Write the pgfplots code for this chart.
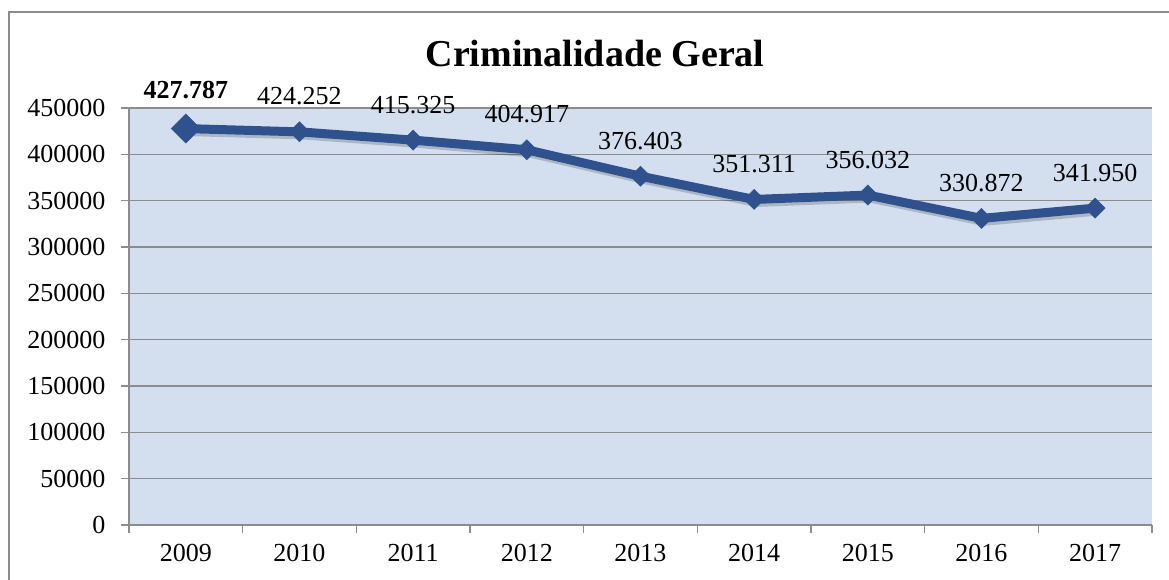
\documentclass[border=0pt]{standalone}
\usepackage{fontspec}
\setmainfont{Liberation Serif}
\usepackage{pgfplots}
\pgfplotsset{compat=1.18}
\definecolor{plotbg}{HTML}{D3DFEE}
\definecolor{serie}{HTML}{2F528F}
\definecolor{gridc}{HTML}{8C8C8C}
\begin{document}
\begin{tikzpicture}
\useasboundingbox (0,0) rectangle (1169pt,580pt);
\draw[gridc, line width=1.5pt] (9pt,-10pt) |- (1180pt,568pt);
\node[anchor=base, font=\fontsize{38}{44}\selectfont\bfseries] at (595pt,513pt) {Criminalidade Geral};
\begin{axis}[
  at={(129pt,55pt)}, anchor=south west,
  scale only axis, width=1023pt, height=417pt,
  xmin=-0.5, xmax=8.5, ymin=0, ymax=450000,
  axis background/.style={fill=plotbg},
  axis lines=left, axis line style={-, gridc, line width=1.5pt},
  xtick={0,...,8},
  xticklabels={2009,2010,2011,2012,2013,2014,2015,2016,2017},
  major x tick style={draw=none},
  minor xtick={-0.5,0.5,...,8.5},
  minor x tick style={gridc, line width=1.5pt},
  minor tick length=8pt,
  ytick={0,50000,...,450000},
  major tick length=8pt,
  tick align=outside,
  y tick style={gridc, line width=1.5pt},
  ymajorgrids, grid style={gridc, line width=1.5pt},
  scaled y ticks=false,
  /pgf/number format/assume math mode=true,
  yticklabel style={/pgf/number format/fixed, /pgf/number format/set thousands separator={}, xshift=-12pt},
  ticklabel style={font=\fontsize{26}{30}\selectfont},
  xticklabel style={yshift=-8pt},
  clip=false,
]
\addplot[black, opacity=0.18, line width=9pt, xshift=2pt, yshift=-3pt, forget plot]
coordinates {(0,427787) (1,424252) (2,415325) (3,404917) (4,376403) (5,351311) (6,356032) (7,330872) (8,341950)};
\addplot[serie, line width=9pt, mark=square*, mark size=7.1pt,
  mark options={line width=0.5pt, solid, rotate=45},
  nodes near coords, point meta=explicit symbolic,
  every node near coord/.style={anchor=base, yshift=27pt, black, font=\fontsize{26}{30}\selectfont}]
coordinates {
(0,427787) []
(1,424252) [424.252]
(2,415325) [415.325]
(3,404917) [404.917]
(4,376403) [376.403]
(5,351311) [351.311]
(6,356032) [356.032]
(7,330872) [330.872]
(8,341950) [341.950]
};
\addplot[serie, only marks, mark=square*, mark size=10.3pt,
  mark options={line width=0.5pt, rotate=45},
  nodes near coords, point meta=explicit symbolic,
  every node near coord/.style={anchor=base, yshift=30pt, black, font=\fontsize{26}{30}\selectfont\bfseries}]
coordinates {(0,427787) [427.787]};
\end{axis}
\end{tikzpicture}
\end{document}
